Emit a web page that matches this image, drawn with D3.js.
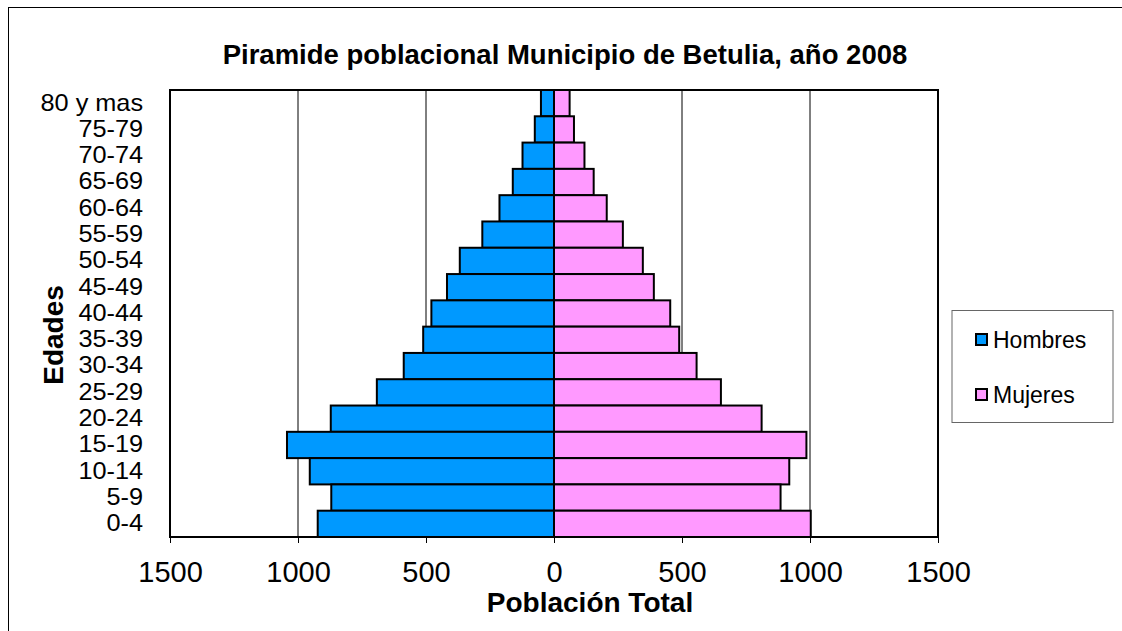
<!DOCTYPE html>
<html>
<head>
<meta charset="utf-8">
<script src="https://cdn.jsdelivr.net/npm/d3@7"></script>
<style>
  body { margin: 0; background: #fff; }
  text { font-family: "Liberation Sans", Arial, sans-serif; fill: #000; }
</style>
</head>
<body>
<svg id="chart" width="1122" height="631"></svg>
<script>
// age groups, top to bottom
var ages = ["80 y mas", "75-79", "70-74", "65-69", "60-64", "55-59", "50-54", "45-49",
            "40-44", "35-39", "30-34", "25-29", "20-24", "15-19", "10-14", "5-9", "0-4"];
var hombres = [51, 75, 123, 161, 213, 280, 368, 418, 479, 511, 587, 692, 872, 1043, 954, 870, 923];
var mujeres = [61, 78, 119, 155, 206, 269, 347, 390, 454, 489, 557, 652, 811, 986, 919, 885, 1003];
var xTicks = [-1500, -1000, -500, 0, 500, 1000, 1500];
var seriesNames = ["Hombres", "Mujeres"];
var seriesColors = ["#0099ff", "#ff99ff"];

var svg = d3.select("#chart");

// outer chart frame (only left/top visible)
svg.append("rect")
  .attr("x", 8.5).attr("y", 7.5)
  .attr("width", 1200).attr("height", 700)
  .attr("fill", "#fff")
  .attr("stroke", "#000").attr("stroke-width", 1);

var plot = {left: 170, top: 90, right: 938, bottom: 537};

var x = d3.scaleLinear()
  .domain([-1500, 1500])
  .range([plot.left, plot.right]);

var y = d3.scaleBand()
  .domain(ages)
  .range([plot.top, plot.bottom])
  .padding(0);

// gridlines
svg.append("g")
  .selectAll("line")
  .data(xTicks.filter(function(d) { return d !== 0 && Math.abs(d) !== 1500; }))
  .enter().append("line")
    .attr("x1", function(d) { return x(d); })
    .attr("x2", function(d) { return x(d); })
    .attr("y1", plot.top).attr("y2", plot.bottom)
    .attr("stroke", "#000").attr("stroke-width", 1);

// bars
var bars = svg.append("g");
bars.selectAll(".hombre")
  .data(ages)
  .enter().append("rect")
    .attr("class", "hombre")
    .attr("x", function(d, i) { return x(-hombres[i]); })
    .attr("y", function(d) { return y(d); })
    .attr("width", function(d, i) { return x(0) - x(-hombres[i]); })
    .attr("height", y.bandwidth())
    .attr("fill", seriesColors[0])
    .attr("stroke", "#000").attr("stroke-width", 2);

bars.selectAll(".mujer")
  .data(ages)
  .enter().append("rect")
    .attr("class", "mujer")
    .attr("x", x(0))
    .attr("y", function(d) { return y(d); })
    .attr("width", function(d, i) { return x(mujeres[i]) - x(0); })
    .attr("height", y.bandwidth())
    .attr("fill", seriesColors[1])
    .attr("stroke", "#000").attr("stroke-width", 2);

// plot border
svg.append("rect")
  .attr("x", plot.left).attr("y", plot.top)
  .attr("width", plot.right - plot.left)
  .attr("height", plot.bottom - plot.top)
  .attr("fill", "none")
  .attr("stroke", "#000").attr("stroke-width", 2);

// x axis
var xAxis = d3.axisBottom(x)
  .tickValues(xTicks)
  .tickSize(6)
  .tickFormat(function(d) { return Math.abs(d); });

var gx = svg.append("g")
  .attr("transform", "translate(0," + plot.bottom + ")")
  .call(xAxis);
gx.select(".domain").remove();
gx.selectAll(".tick line").attr("stroke", "#000").attr("stroke-width", 1);
gx.selectAll(".tick text")
  .attr("y", 24)
  .attr("dy", "0.71em")
  .style("font-size", "29px")
  .style("font-family", "Liberation Sans, Arial, sans-serif");

// y axis labels (a bit smaller so rows don't collide, widened to match)
var yAxis = d3.axisLeft(y).tickSize(0).tickPadding(24.5);
var gy = svg.append("g")
  .attr("transform", "translate(" + plot.left + ",0)")
  .call(yAxis);
gy.select(".domain").remove();
gy.selectAll(".tick text")
  .attr("transform", "scale(1.1,1)")
  .style("font-size", "23px")
  .style("font-family", "Liberation Sans, Arial, sans-serif");

// title
svg.append("text")
  .attr("x", 565).attr("y", 64)
  .attr("text-anchor", "middle")
  .style("font-size", "27.5px").style("font-weight", "bold")
  .text("Piramide poblacional Municipio de Betulia, año 2008");

// axis titles
svg.append("text")
  .attr("x", 590).attr("y", 612)
  .attr("text-anchor", "middle")
  .style("font-size", "28px").style("font-weight", "bold")
  .text("Población Total");

svg.append("text")
  .attr("transform", "translate(63,335) rotate(-90)")
  .attr("text-anchor", "middle")
  .style("font-size", "28px").style("font-weight", "bold")
  .text("Edades");

// legend
var legend = svg.append("g");
legend.append("rect")
  .attr("x", 952).attr("y", 310.5)
  .attr("width", 161).attr("height", 112)
  .attr("fill", "#fff")
  .attr("stroke", "#666").attr("stroke-width", 1);

var item = legend.selectAll(".item")
  .data(seriesNames)
  .enter().append("g")
    .attr("class", "item")
    .attr("transform", function(d, i) { return "translate(976," + (340 + i * 55) + ")"; });

item.append("rect")
  .attr("x", 0).attr("y", -6)
  .attr("width", 11).attr("height", 11)
  .attr("fill", function(d, i) { return seriesColors[i]; })
  .attr("stroke", "#000").attr("stroke-width", 2);

item.append("text")
  .attr("x", 17).attr("y", 0)
  .attr("dy", "0.35em")
  .style("font-size", "23px")
  .text(function(d) { return d; });
</script>
</body>
</html>
